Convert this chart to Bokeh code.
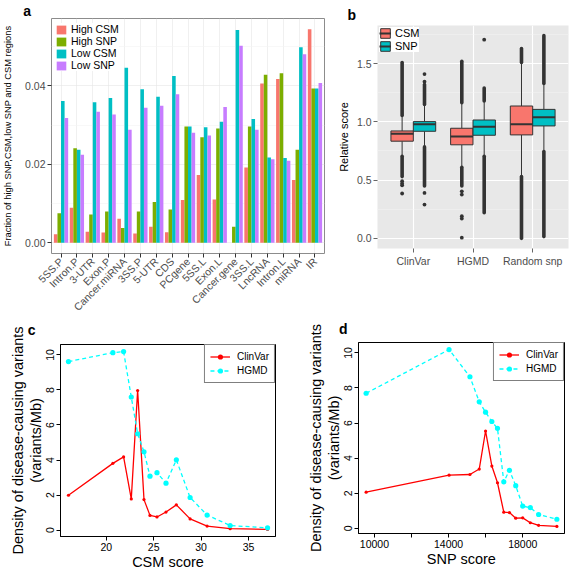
import math
from bokeh.plotting import figure
from bokeh.layouts import column, row
from bokeh.models import (Range1d, FixedTicker, Legend, LegendItem, ColumnDataSource,
                          NumeralTickFormatter)
from bokeh.transform import dodge
from bokeh.embed import file_html
from bokeh.resources import INLINE

S = 1.0
FONT = "Liberation Sans"
ROW_SPLIT = 312   # reference y where the lower panels begin
TOP_FIG_H = 332   # top figures are taller; the lower row overlaps them
TOTAL_W = 571
TOTAL_H = 572


def fs(v):
    return f"{v * S:.1f}px"


# ---------------- Panel a data ----------------
regions = ["5SS.P", "Intron.P", "3-UTR", "Exon.P", "Cancer.miRNA", "3SS.P", "5-UTR",
           "CDS", "PCgene", "5SS.L", "Exon.L", "Cancer.gene", "3SS.L", "LncRNA",
           "Intron.L", "miRNA", "IR"]
high_csm = [0.0022, 0.0089, 0.0028, 0.0026, 0.0061, 0.0024, 0.0041, 0.0027, 0.0109,
            0.0173, 0.0110, 0.0000, 0.0192, 0.0406, 0.0417, 0.0160, 0.0544]
high_snp = [0.0075, 0.0241, 0.0072, 0.0080, 0.0038, 0.0080, 0.0104, 0.0085, 0.0296,
            0.0269, 0.0291, 0.0041, 0.0296, 0.0428, 0.0432, 0.0237, 0.0393]
low_csm = [0.0361, 0.0237, 0.0358, 0.0369, 0.0446, 0.0391, 0.0372, 0.0425, 0.0296,
           0.0294, 0.0308, 0.0542, 0.0315, 0.0217, 0.0216, 0.0498, 0.0393]
low_snp = [0.0318, 0.0224, 0.0334, 0.0327, 0.0288, 0.0344, 0.0349, 0.0378, 0.0280,
           0.0273, 0.0346, 0.0502, 0.0288, 0.0213, 0.0209, 0.0480, 0.0407]
series_a = ["High CSM", "High SNP", "Low CSM", "Low SNP"]
colors_a = ["#F8766D", "#7CAE00", "#00BFC4", "#C77CFF"]
yticks_a = [0.0, 0.02, 0.04]
yminor_a = [0.01, 0.03, 0.05]

# ---------------- Panel b data ----------------
groups_b = ["ClinVar", "HGMD", "Random snp"]
box_series = ["CSM", "SNP"]
colors_b = ["#F8766D", "#00BFC4"]
csm_q1 = [0.834, 0.803, 0.888]
csm_med = [0.897, 0.874, 0.979]
csm_q3 = [0.922, 0.945, 1.136]
csm_wlo = [0.715, 0.620, 0.540]
csm_whi = [1.045, 1.155, 1.500]
snp_q1 = [0.919, 0.885, 0.965]
snp_med = [0.979, 0.959, 1.039]
snp_q3 = [1.002, 1.016, 1.107]
snp_wlo = [0.795, 0.715, 0.755]
snp_whi = [1.140, 1.170, 1.320]
# dense runs of outliers (low, high) and isolated outliers
csm_out_runs = [[(1.055, 1.51), (0.53, 0.705)], [(1.165, 1.52), (0.45, 0.61)],
                [(1.51, 1.63), (0.0, 0.53)]]
csm_out_pts = [[0.49, 0.47, 0.455, 0.385], [0.404, 0.376, 0.19, 0.17, 0.006], []]
snp_out_runs = [[(1.15, 1.32), (0.45, 0.785)], [(1.18, 1.29), (0.22, 0.705)],
                [(1.33, 1.74), (0.015, 0.745)]]
snp_out_pts = [[1.345, 1.41, 0.39, 0.29], [1.705], []]
yticks_b = [0.0, 0.5, 1.0, 1.5]
yminor_b = [0.25, 0.75, 1.25, 1.75]

# ---------------- Panel c data ----------------
csm_score = [16.02, 20.70, 21.83, 22.64, 23.31, 23.98, 24.61, 25.35, 26.30, 27.39,
             28.84, 30.63, 33.06, 37.0]
c_clinvar = [1.99, 3.81, 4.18, 1.78, 7.97, 1.74, 0.84, 0.75, 1.03, 1.44, 0.64, 0.23,
             0.08, 0.04]
c_hgmd = [9.62, 10.13, 10.19, 7.60, 5.50, 4.47, 3.08, 3.28, 2.68, 4.01, 1.86, 0.86,
          0.26, 0.13]
xticks_c = [20, 25, 30, 35]

# ---------------- Panel d data ----------------
snp_score = [9553, 14025, 15152, 15653, 15993, 16333, 16637, 16977, 17281, 17621,
             17996, 18408, 18855, 19839]
d_clinvar = [2.06, 3.03, 3.07, 3.38, 5.55, 3.55, 2.60, 0.92, 0.90, 0.58, 0.60, 0.32,
             0.17, 0.11]
d_hgmd = [7.70, 10.19, 8.64, 7.21, 6.62, 6.09, 5.70, 2.65, 3.31, 2.43, 1.27, 1.18,
          0.79, 0.52]
xticks_d = [10000, 12000, 14000, 16000, 18000]
xlabels_d = {10000: "10000", 12000: "", 14000: "14000", 16000: "", 18000: "18000"}
yticks_cd = [0, 2, 4, 6, 8, 10]
line_names = ["ClinVar", "HGMD"]
line_colors = ["#FF0000", "#00FFFF"]


def make_fig(ox, oy, W, H, fl, fr, ft, fb, **kw):
    w = round(W * S)
    h = round(H * S)
    left = round((fl - ox) * S)
    top = round((ft - oy) * S)
    fw = round((fr - fl) * S)
    fh = round((fb - ft) * S)
    p = figure(width=w, height=h, min_border_left=left, min_border_right=w - left - fw,
               min_border_top=top, min_border_bottom=h - top - fh,
               toolbar_location=None, output_backend="svg", **kw)
    p.background_fill_color = "white"
    p.border_fill_color = "white"
    return p


def expand(vals, frac, include_zero=False):
    lo, hi = min(vals), max(vals)
    if include_zero:
        lo = min(lo, 0.0)
    d = (hi - lo) * frac
    return Range1d(lo - d, hi + d)


def panel_letter(p, text, dx_ref, gap_ref, line_height=1.0):
    """bold panel tag placed as a left-aligned title, shifted left of the frame"""
    p.title.text = text
    p.title.align = "left"
    p.title.offset = dx_ref * S
    p.title.standoff = max(0, round(gap_ref * S - 3))
    p.title.text_font = FONT
    p.title.text_font_size = fs(14)
    p.title.text_font_style = "bold"
    p.title.text_color = "black"
    p.title.text_line_height = line_height


# ================= Panel a =================
n = len(regions)
pa = make_fig(0, 0, 330, TOP_FIG_H, 49, 324, 15, 253,
              x_range=Range1d(0.4, n + 0.6),
              y_range=expand(high_csm + high_snp + low_csm + low_snp, 0.05, True))
xs_a = list(range(1, n + 1))
src_a = ColumnDataSource(dict(x=xs_a, hc=high_csm, hs=high_snp, lc=low_csm, ls=low_snp))
items_a = []
for j, (col, name, colr) in enumerate(zip(["hc", "hs", "lc", "ls"], series_a, colors_a)):
    off = (j - 1.5) * 0.225
    r = pa.vbar(x=dodge("x", off, range=pa.x_range), top=col, bottom=0, width=0.225,
                source=src_a, fill_color=colr, line_color=None)
    items_a.append(LegendItem(label=name, renderers=[r]))
pa.xaxis.ticker = FixedTicker(ticks=xs_a)
pa.xaxis.major_label_overrides = {i: lab for i, lab in zip(xs_a, regions)}
pa.xaxis.major_label_orientation = math.pi / 4
pa.yaxis.ticker = FixedTicker(ticks=yticks_a, minor_ticks=yminor_a)
pa.yaxis.formatter = NumeralTickFormatter(format="0.00")
pa.yaxis.axis_label = "Fraction of high SNP,CSM,low SNP and CSM regions"
pa.yaxis.axis_label_text_font_size = fs(9.3)
pa.yaxis.axis_label_standoff = round(9 * S)
for ax in pa.axis:
    ax.axis_line_color = None
    ax.major_tick_line_color = "#333333"
    ax.major_tick_out = 4
    ax.major_tick_in = 0
    ax.minor_tick_line_color = None
    ax.major_label_text_font = FONT
    ax.major_label_text_font_size = fs(10.5)
    ax.major_label_text_color = "#4D4D4D"
    ax.major_label_standoff = 2
    ax.axis_label_text_font = FONT
    ax.axis_label_text_font_style = "normal"
    ax.axis_label_text_color = "black"
pa.xgrid.ticker = FixedTicker(ticks=xs_a)
pa.grid.grid_line_color = "#E5E5E5"
pa.grid.grid_line_width = 0.6
pa.ygrid.minor_grid_line_color = "#F3F3F3"
pa.ygrid.minor_grid_line_width = 0.6
pa.outline_line_color = "#8C8C8C"
pa.outline_line_width = 1
fha = round((253 - 15) * S)
leg_h = 4 * round(11 * S) + 2
leg_a = Legend(items=items_a, location=((53 - 49) * S, fha - 10 * S - leg_h),
               background_fill_color="white", background_fill_alpha=1,
               border_line_color=None, label_text_font=FONT,
               label_text_font_size=fs(10.5), label_text_color="black",
               label_text_line_height=1.0,
               glyph_width=round(12 * S), glyph_height=round(11 * S),
               label_height=round(11 * S), spacing=0, padding=1,
               label_standoff=round(4 * S), margin=0)
pa.add_layout(leg_a)
panel_letter(pa, "a", 20.7 - 49, 3, line_height=0.75)

# ================= Panel b =================
pb = make_fig(330, 0, TOTAL_W - 330, TOP_FIG_H, 376.7, 568, 25, 248,
              x_range=Range1d(0.4, len(groups_b) + 0.6),
              y_range=expand([0.0, 1.74], 0.05))
pb.background_fill_color = "#E8E8E8"
pb.outline_line_color = None
xg = list(range(1, len(groups_b) + 1))
bw = 0.375
items_b = []
box_sets = [
    (csm_q1, csm_med, csm_q3, csm_wlo, csm_whi, csm_out_runs, csm_out_pts),
    (snp_q1, snp_med, snp_q3, snp_wlo, snp_whi, snp_out_runs, snp_out_pts),
]
for j, (q1, med, q3, wlo, whi, runs, pts) in enumerate(box_sets):
    off = (j - 0.5) * bw
    src = ColumnDataSource(dict(x=xg, q1=q1, med=med, q3=q3, wlo=wlo, whi=whi))
    pb.segment(x0=dodge("x", off, range=pb.x_range), x1=dodge("x", off, range=pb.x_range),
               y0="q3", y1="whi", source=src, line_color="#333333", line_width=1)
    pb.segment(x0=dodge("x", off, range=pb.x_range), x1=dodge("x", off, range=pb.x_range),
               y0="q1", y1="wlo", source=src, line_color="#333333", line_width=1)
    rx, rlo, rhi = [], [], []
    for g, rr in zip(xg, runs):
        for lo, hi in rr:
            rx.append(g)
            rlo.append(lo)
            rhi.append(hi)
    rsrc = ColumnDataSource(dict(x=rx, lo=rlo, hi=rhi))
    pb.segment(x0=dodge("x", off, range=pb.x_range), x1=dodge("x", off, range=pb.x_range),
               y0="lo", y1="hi", source=rsrc, line_color="#333333",
               line_width=3.6 * S, line_cap="round")
    px, py = [], []
    for g, pp in zip(xg, pts):
        for v in pp:
            px.append(g)
            py.append(v)
    psrc = ColumnDataSource(dict(x=px, y=py))
    pb.scatter(x=dodge("x", off, range=pb.x_range), y="y", source=psrc, size=3.8 * S,
               fill_color="#333333", line_color=None)
    rb = pb.vbar(x=dodge("x", off, range=pb.x_range), top="q3", bottom="q1", width=bw,
                 source=src, fill_color=colors_b[j], line_color="#333333", line_width=1)
    rm = pb.segment(x0=dodge("x", off - bw / 2, range=pb.x_range),
                    x1=dodge("x", off + bw / 2, range=pb.x_range),
                    y0="med", y1="med", source=src, line_color="#333333", line_width=2)
    items_b.append(LegendItem(label=box_series[j], renderers=[rb, rm]))
pb.xaxis.ticker = FixedTicker(ticks=xg)
pb.xaxis.major_label_overrides = {g: lab for g, lab in zip(xg, groups_b)}
pb.yaxis.ticker = FixedTicker(ticks=yticks_b, minor_ticks=yminor_b)
pb.yaxis.formatter = NumeralTickFormatter(format="0.0")
pb.yaxis.axis_label = "Relative score"
pb.yaxis.axis_label_text_font_size = fs(11)
pb.yaxis.axis_label_standoff = round(4 * S)
for ax in pb.axis:
    ax.axis_line_color = None
    ax.major_tick_line_color = "#666666"
    ax.major_tick_out = 4
    ax.major_tick_in = 0
    ax.minor_tick_line_color = None
    ax.major_label_text_font = FONT
    ax.major_label_text_font_size = fs(10.5)
    ax.major_label_text_color = "#4D4D4D"
    ax.major_label_standoff = 2
    ax.axis_label_text_font = FONT
    ax.axis_label_text_font_style = "normal"
    ax.axis_label_text_color = "black"
pb.xgrid.ticker = FixedTicker(ticks=xg)
pb.grid.grid_line_color = "white"
pb.grid.grid_line_width = 1.1
pb.ygrid.minor_grid_line_color = "#F4F4F4"
pb.ygrid.minor_grid_line_width = 0.5
leg_b = Legend(items=items_b, location="top_left",
               background_fill_color="white", background_fill_alpha=1,
               border_line_color=None, label_text_font=FONT,
               label_text_font_size=fs(11), label_text_color="black",
               label_text_line_height=1.0,
               glyph_width=round(12 * S), glyph_height=round(12 * S),
               label_height=round(12 * S), spacing=1, padding=1,
               label_standoff=round(4 * S), margin=2)
pb.add_layout(leg_b)
panel_letter(pb, "b", 346.7 - 376.7, 25 - 17)


# ================= Panels c, d =================
def line_panel(ox, W, fl, fr, ft, fb, xs, ys1, ys2, xticks, xlabel, letter_txt, lpos,
               overrides=None):
    p = make_fig(ox, ROW_SPLIT, W, TOTAL_H - ROW_SPLIT, fl, fr, ft, fb,
                 x_range=expand(xs, 0.04), y_range=expand(ys1 + ys2, 0.04))
    p.border_fill_alpha = 0  # lets the rotated labels of panel a show through
    items = []
    for ys, name, colr, dash, msize in [(ys1, line_names[0], line_colors[0], "solid", 3.2),
                                        (ys2, line_names[1], line_colors[1], "4 3", 5.2)]:
        lr = p.line(xs, ys, line_color=colr, line_width=1.3, line_dash=dash)
        sr = p.scatter(xs, ys, size=msize * S, fill_color=colr, line_color=None)
        items.append(LegendItem(label=name, renderers=[lr, sr]))
    p.xaxis.ticker = FixedTicker(ticks=xticks)
    if overrides:
        p.xaxis.major_label_overrides = overrides
    p.yaxis.ticker = FixedTicker(ticks=yticks_cd)
    p.yaxis.major_label_orientation = "vertical"
    p.xaxis.axis_label = xlabel
    p.yaxis.axis_label = "Density of disease-causing variants\n(variants/Mb)"
    for ax in p.axis:
        ax.axis_line_color = "black"
        ax.major_tick_line_color = "black"
        ax.major_tick_out = 4
        ax.major_tick_in = 0
        ax.minor_tick_line_color = None
        ax.major_label_text_font = FONT
        ax.major_label_text_font_size = fs(10.5)
        ax.major_label_text_color = "black"
        ax.major_label_text_line_height = 1.0
        ax.major_label_standoff = 2
        ax.axis_label_text_font = FONT
        ax.axis_label_text_font_size = fs(14.5)
        ax.axis_label_text_font_style = "normal"
        ax.axis_label_text_color = "black"
        ax.axis_label_standoff = 0
    p.xaxis.axis_label_text_line_height = 1.0
    p.yaxis.axis_label_text_line_height = 1.1
    p.grid.visible = False
    p.outline_line_color = "black"
    p.outline_line_width = 1
    leg = Legend(items=items, location="top_right", margin=0,
                 background_fill_color="white", background_fill_alpha=1,
                 border_line_color="black", border_line_width=1,
                 label_text_font=FONT, label_text_font_size=fs(10),
                 label_text_color="black", label_text_line_height=1.0,
                 glyph_width=round(20 * S),
                 glyph_height=round(13 * S), label_height=round(13 * S),
                 spacing=1, padding=round(5 * S), label_standoff=round(7 * S))
    p.add_layout(leg)
    panel_letter(p, letter_txt, lpos[0] - fl, ft - lpos[1])
    return p


pc = line_panel(0, 286, 60, 275, 341.7, 537.3, csm_score, c_clinvar, c_hgmd, xticks_c,
                "CSM score", "c", (27.3, 325))
pd_ = line_panel(286, TOTAL_W - 286, 357.7, 563.3, 340, 533.3, snp_score, d_clinvar,
                 d_hgmd, xticks_d, "SNP score", "d", (338.3, 325), overrides=xlabels_d)

overlap = round(TOP_FIG_H * S) - round(ROW_SPLIT * S)
top_row = row(column(pa), column(pb), spacing=0)
bottom_row = row(column(pc), column(pd_), spacing=0,
                 styles={"margin-top": f"-{overlap}px", "position": "relative",
                         "z-index": "1"})
layout = column(top_row, bottom_row, spacing=0)
open("out.html", "w").write(file_html(layout, INLINE))
